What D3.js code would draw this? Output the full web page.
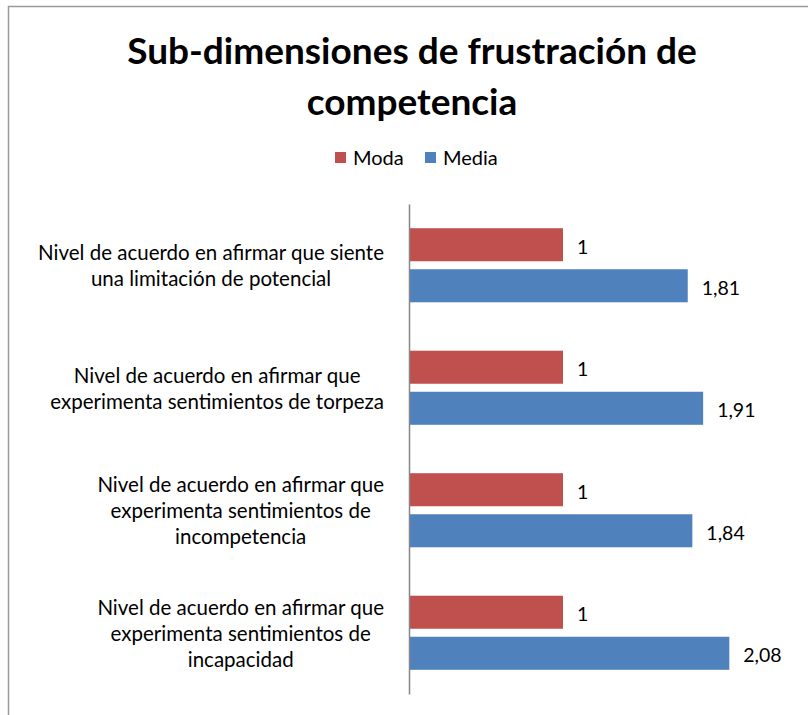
<!DOCTYPE html>
<html>
<head>
<meta charset="utf-8">
<script src="https://cdn.jsdelivr.net/npm/d3@7"></script>
<style>
  body { margin: 0; background: #fff; }
  svg { display: block; font-family: Lato, "Open Sans", sans-serif; }
</style>
</head>
<body>
<svg id="chart"></svg>
<script>
const categories = [
  "Nivel de acuerdo en afirmar que siente|una limitación  de potencial",
  "Nivel de acuerdo en afirmar que|experimenta sentimientos de torpeza",
  "Nivel de acuerdo en afirmar que|experimenta sentimientos de|incompetencia",
  "Nivel de acuerdo en afirmar que|experimenta sentimientos de|incapacidad"
];
const seriesNames = ["Moda", "Media"];
const moda = [1, 1, 1, 1];
const media = [1.81, 1.91, 1.84, 2.08];
const titleLines = ["Sub-dimensiones de frustración de", "competencia"];

const colors = { Moda: "#C0504D", Media: "#4F81BD" };
const width = 808, height = 715;

const rows = categories.map((c, i) => ({ cat: c, Moda: moda[i], Media: media[i] }));

const svg = d3.select("#chart").attr("width", width).attr("height", height);

// chart area border
svg.append("rect")
  .attr("x", 8.5).attr("y", 6.5)
  .attr("width", 820).attr("height", 720)
  .attr("fill", "none")
  .attr("stroke", "#9a9a9a")
  .attr("stroke-width", 1.5);

// title
svg.append("g").selectAll("text")
  .data(titleLines)
  .enter().append("text")
  .attr("x", 412)
  .attr("y", (d, i) => 64 + i * 51)
  .attr("text-anchor", "middle")
  .attr("font-weight", "bold")
  .attr("font-size", 37)
  .attr("fill", "#000")
  .text(d => d);

// legend
const legend = svg.append("g");
const legendX = [335, 425];
seriesNames.forEach((s, i) => {
  legend.append("rect")
    .attr("x", legendX[i]).attr("y", 152)
    .attr("width", 11).attr("height", 11)
    .attr("fill", colors[s]);
  legend.append("text")
    .attr("x", legendX[i] + 18).attr("y", 165)
    .attr("font-size", 20)
    .attr("fill", "#000")
    .text(s);
});

const x = d3.scaleLinear().domain([0, 2.5]).range([409, 794]);

const y0 = d3.scaleBand()
  .domain(categories)
  .range([204, 694]);

const y1 = d3.scaleBand()
  .domain(seriesNames)
  .range([0, y0.bandwidth()])
  .paddingInner(0.195)
  .paddingOuter(0.59);

const groups = svg.selectAll(".group")
  .data(rows)
  .enter().append("g")
  .attr("class", "group")
  .attr("transform", d => `translate(0,${y0(d.cat)})`);

groups.selectAll("rect")
  .data(d => seriesNames.map(s => ({ key: s, value: d[s] })))
  .enter().append("rect")
  .attr("x", x(0))
  .attr("y", d => y1(d.key))
  .attr("width", d => x(d.value) - x(0))
  .attr("height", y1.bandwidth())
  .attr("fill", d => colors[d.key]);

groups.selectAll(".val")
  .data(d => seriesNames.map(s => ({ key: s, value: d[s] })))
  .enter().append("text")
  .attr("class", "val")
  .attr("x", d => x(d.value) + 14)
  .attr("y", d => y1(d.key) + y1.bandwidth() / 2 + 2)
  .attr("dy", "0.35em")
  .attr("font-size", 19.5)
  .attr("fill", "#000")
  .text(d => String(d.value).replace(".", ","));

// category labels: block right-aligned near the axis, lines centred in the block
const labelRight = 384;
groups.each(function (d) {
  const lines = d.cat.split("|");
  const lh = 26;
  const mid = y0.bandwidth() / 2 + 1;
  const t = d3.select(this).append("text")
    .attr("text-anchor", "middle")
    .attr("font-size", 20.5)
    .attr("fill", "#000");
  const spans = t.selectAll("tspan")
    .data(lines)
    .enter().append("tspan")
    .attr("y", (l, i) => mid + (i - (lines.length - 1) / 2) * lh)
    .attr("dy", "0.35em")
    .text(l => l);
  const blockW = d3.max(spans.nodes(), n => n.getComputedTextLength());
  spans.attr("x", labelRight - blockW / 2);
});

// vertical axis line
const yAxis = svg.append("g")
  .attr("transform", `translate(${x(0)},0)`)
  .call(d3.axisLeft(y0).tickSize(0).tickFormat(""));
yAxis.select(".domain")
  .attr("stroke", "#868686")
  .attr("stroke-width", 1.5);
</script>
</body>
</html>
